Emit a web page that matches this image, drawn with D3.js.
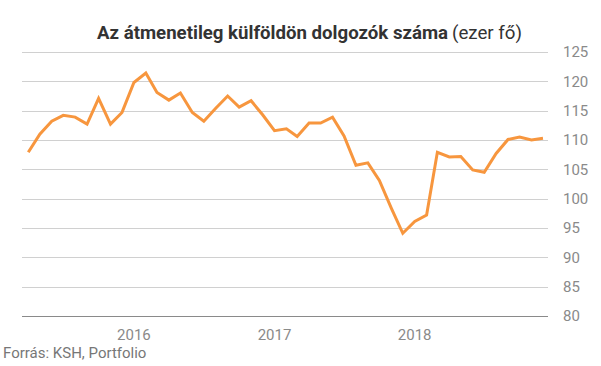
<!DOCTYPE html>
<html>
<head>
<meta charset="utf-8">
<script src="https://cdn.jsdelivr.net/npm/d3@7"></script>
<style>
  body { margin: 0; background: #fff; }
  svg { display: block; font-family: Roboto, sans-serif; }
</style>
</head>
<body>
<svg id="chart"></svg>
<script>
// Monthly values, April 2015 - December 2018 (thousand persons)
const startMonth = new Date(2015, 3, 1);
const values = [
  107.9, 111.0, 113.2, 114.2, 113.9, 112.7, 117.1, 112.7, 114.7,
  119.8, 121.4, 118.1, 116.8, 118.0, 114.7, 113.2, 115.4, 117.5, 115.6, 116.7, 114.3, 111.6,
  111.9, 110.6, 112.9, 112.9, 113.9, 110.7, 105.7, 106.1, 103.1, 98.4, 94.1, 96.1, 97.2,
  107.9, 107.1, 107.2, 104.9, 104.5, 107.7, 110.1, 110.5, 110.0, 110.3
];
const yTicks = [80, 85, 90, 95, 100, 105, 110, 115, 120, 125];
const xTicks = [new Date(2016, 0, 1), new Date(2017, 0, 1), new Date(2018, 0, 1)];

const width = 601, height = 366;
const gridLeft = 22, gridRight = 548;

const data = values.map((v, i) => ({ date: d3.timeMonth.offset(startMonth, i), value: v }));

const svg = d3.select("#chart")
    .attr("width", width)
    .attr("height", height);

const x = d3.scaleTime()
    .domain(d3.extent(data, d => d.date))
    .range([28.3, 543]);

const y = d3.scaleLinear()
    .domain([80, 125])
    .range([316, 52]);

// Gridlines
svg.append("g")
    .selectAll("line")
    .data(yTicks)
    .join("line")
    .attr("x1", gridLeft)
    .attr("x2", gridRight)
    .attr("y1", d => Math.round(y(d)) + 0.5)
    .attr("y2", d => Math.round(y(d)) + 0.5)
    .attr("stroke", d => d === 80 ? "#8a8a8a" : "#d0d0d0")
    .attr("stroke-width", 1);

// Right-hand y labels
svg.append("g")
    .selectAll("text")
    .data(yTicks)
    .join("text")
    .attr("x", 563)
    .attr("y", d => y(d))
    .attr("dy", "0.35em")
    .attr("fill", "#8a8a8a")
    .style("font-size", "15px")
    .text(d => d);

// Year labels
svg.append("g")
    .selectAll("text")
    .data(xTicks)
    .join("text")
    .attr("x", d => x(d))
    .attr("y", 340)
    .attr("text-anchor", "middle")
    .attr("fill", "#8a8a8a")
    .style("font-size", "15px")
    .text(d => d3.timeFormat("%Y")(d));

// The line
const line = d3.line()
    .x(d => x(d.date))
    .y(d => y(d.value));

svg.append("path")
    .datum(data)
    .attr("fill", "none")
    .attr("stroke", "#f7963e")
    .attr("stroke-width", 3)
    .attr("stroke-linejoin", "miter")
    .attr("d", line);

// Title
const title = svg.append("g")
    .attr("fill", "#333")
    .style("font-size", "18.5px");
title.append("text")
    .attr("x", 97)
    .attr("y", 39)
    .attr("textLength", 351)
    .attr("lengthAdjust", "spacingAndGlyphs")
    .style("font-weight", "bold")
    .text("Az átmenetileg külföldön dolgozók száma");
title.append("text")
    .attr("x", 452)
    .attr("y", 39)
    .attr("textLength", 70)
    .attr("lengthAdjust", "spacingAndGlyphs")
    .text("(ezer fő)");

// Source
svg.append("text")
    .attr("x", 3)
    .attr("y", 358)
    .attr("fill", "#777")
    .style("font-size", "15px")
    .text("Forrás: KSH, Portfolio");
</script>
</body>
</html>
